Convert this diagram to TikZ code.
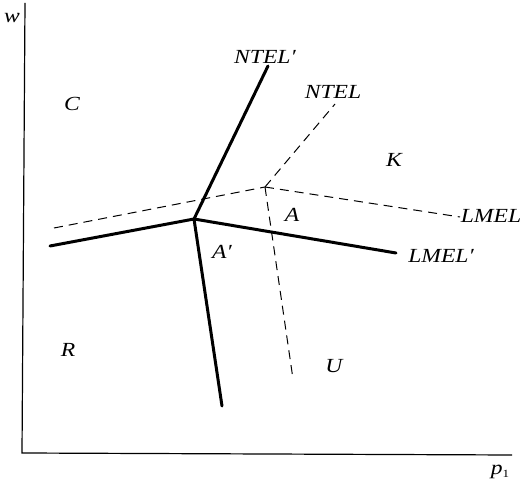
\documentclass[tikz,border=0pt]{standalone}
\usepackage{fontspec}
\setmainfont{Liberation Serif}[FakeStretch=1.18]
\begin{document}
\begin{tikzpicture}[x=1pt,y=-1pt,
  lbl/.style={font=\fontsize{20}{23}\selectfont\itshape, inner sep=0pt},
  axisline/.style={line width=1.2pt},
  curve/.style={line width=3pt, line cap=round},
  dcurve/.style={line width=1pt, dash pattern=on 9pt off 6pt}]
\useasboundingbox (0,0) rectangle (523,486);
% axes
\coordinate (top) at (25,3);
\coordinate (O) at (22,453);
\coordinate (right) at (512,455);
\draw[axisline] (top) -- (O) -- (right);
% solid lines
\coordinate (J) at (194,219);
\coordinate (ntelp) at (268,66);
\coordinate (sl) at (50,246);
\coordinate (sr) at (396,253);
\coordinate (sd) at (222,406);
\draw[curve] (sl) -- (J) -- (sr);
\draw[curve] (J) -- (ntelp);
\draw[curve] (J) -- (sd);
% dashed lines
\coordinate (D) at (265,187);
\coordinate (ntel) at (335,104);
\coordinate (dl) at (54,228);
\coordinate (dr) at (460,217);
\coordinate (dd) at (293,379);
\draw[dcurve] (dl) -- (D);
\draw[dcurve] (D) -- (ntel);
\draw[dcurve] (D) -- (dr);
\draw[dcurve] (D) -- (dd);
% labels
\node[lbl] (w) at (12,18) {w};
\node[lbl] (p1) at (500,472) {p\raisebox{-3pt}{\upshape\fontsize{11}{12}\selectfont 1}};
\node[lbl] (lntelp) at (265,57) {NTEL′};
\node[lbl] (lntel) at (333,92) {NTEL};
\node[lbl] (C) at (72,104) {C};
\node[lbl] (K) at (394,160) {K};
\node[lbl] (A) at (292,215) {A};
\node[lbl] (llmel) at (491,216) {LMEL};
\node[lbl] (Ap) at (222,252) {A′};
\node[lbl] (llmelp) at (441,256) {LMEL′};
\node[lbl] (R) at (68,350) {R};
\node[lbl] (U) at (334,366) {U};
\end{tikzpicture}
\end{document}
